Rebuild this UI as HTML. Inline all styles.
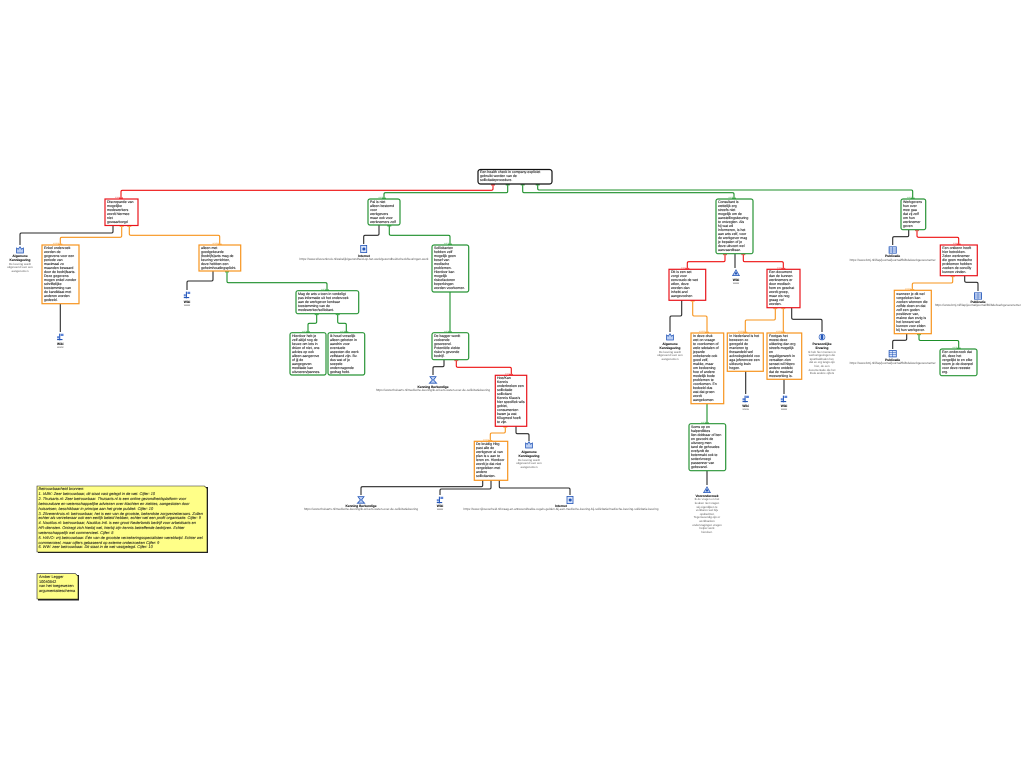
<!DOCTYPE html>
<html lang="nl">
<head>
<meta charset="utf-8">
<title>Argumentatieschema</title>
<style>
html,body{margin:0;padding:0;background:#fff;}
body{width:1024px;height:768px;position:relative;overflow:hidden;font-family:"Liberation Sans",sans-serif;text-rendering:geometricPrecision;}
svg{position:absolute;left:0;top:0;}
.n{position:absolute;white-space:nowrap;font-size:3.55px;line-height:4px;color:#111;-webkit-text-stroke:.07px #111;}
.l{position:absolute;white-space:nowrap;text-align:center;transform:translateX(-50%);font-size:2.9px;line-height:3.6px;color:#555;}
.l b{display:block;color:#000;font-size:3.2px;line-height:4.4px;-webkit-text-stroke:.05px #000;}
.l u{text-decoration:none;font-size:3.05px;}
.e{font-size:2.2px;text-anchor:end;}
.note{position:absolute;white-space:nowrap;font-size:3.88px;line-height:4.85px;color:#111;font-style:italic;-webkit-text-stroke:.05px #111;}
</style>
</head>
<body>
<svg width="1024" height="768" viewBox="0 0 1024 768" fill="none">
<defs>
<g id="wiki"><path d="M-.6-3.4v6.8M-3.2 2.6h5.4" stroke="#2456b8" stroke-width="1.1"/><path d="M.4-3.2h2.8v2.2H.4zM-3.2-.8h2v2.2h-2z" fill="#5a82d6"/></g>
<g id="net"><rect x="-3" y="-3.6" width="6" height="7.2" fill="#dbe6fa" stroke="#2456b8" stroke-width=".8"/><circle cx=".2" cy="0" r="1.5" fill="#2456b8"/></g>
<g id="ken"><path d="M-3-3.4h6L.6 0 3.6 3.2h-7.2L-.6 0z" fill="#bcd0f4" stroke="#2456b8" stroke-width=".8"/></g>
<g id="alg"><path d="M-3.4 3V-2l1.6 1.2L0-3.2 1.6-.8l1.8-1.2V3z" fill="#bcd0f4" stroke="#2456b8" stroke-width=".8"/></g>
<g id="pub"><rect x="-3.6" y="-3.2" width="7.2" height="6.4" fill="#dbe6fa" stroke="#2456b8" stroke-width=".8"/><path d="M-3.6-1h7.2M-3.6 1h7.2M0-3.2v6.4" stroke="#2456b8" stroke-width=".5"/></g>
<g id="per"><circle r="3" fill="#dbe6fa" stroke="#2456b8" stroke-width=".6"/><path d="M-1.2-2.4h2.4v4.8h-2.4z" fill="#2456b8"/></g>
<g id="vak"><path d="M-3.4 2.6 0-3.2 3.4 2.6z" fill="#bcd0f4" stroke="#2456b8" stroke-width=".7"/><circle cx="0" cy=".4" r="1.2" fill="#2456b8"/></g>
</defs>

<!-- black connectors -->
<g stroke="#2a2a2a" stroke-width="1.1">
<path d="M113 225.5v6q0 1.5-1.5 1.5H21.5q-1.500 0-1.500 1.500V245"/>
<path d="M60.300 303.700V332"/>
<path d="M213 271v8.500q0 1.500-1.500 1.500h-23q-1.500 0-1.500 1.500V290"/>
<path d="M379 225v8.800q0 1.500-1.500 1.500h-12.300q-1.500 0-1.500 1.500V244"/>
<path d="M444 359.700v5.500q0 1.500-1.500 1.500h-8q-1.500 0-1.500 1.500V375"/>
<path d="M516 426.300v5.900q0 1.500 1.500 1.500h10q1.500 0 1.500 1.500V441"/>
<path d="M482.700 480.300v4.900q0 1.500-1.500 1.500H362.500q-1.500 0-1.500 1.500V495"/>
<path d="M491 480.300v7.200q0 1.500-1.500 1.500h-48q-1.500 0-1.500 1.500V495"/>
<path d="M499.300 480.300v6.200q0 1.500 1.500 1.500h67.700q1.500 0 1.500 1.500V495"/>
<path d="M735 253.700V268"/>
<path d="M681.700 300.300v14.200q0 1.500-1.500 1.500h-8.700q-1.500 0-1.500 1.500V332"/>
<path d="M791.700 307.700v10.100q0 1.500 1.500 1.500h27.300q1.500 0 1.500 1.500V332"/>
<path d="M745.700 371.300V394M784 379.300V394M707 470.700V485"/>
<path d="M908.700 229.700v5.500q0 1.500-1.500 1.500h-13q-1.500 0-1.500 1.500V245"/>
<path d="M964.700 275.700v5.100q0 1.500 1.500 1.500h10.300q1.500 0 1.500 1.500V291"/>
<path d="M906.700 333.700v5.100q0 1.500-1.500 1.500h-11q-1.500 0-1.500 1.500V349"/>
</g>
<!-- red connectors -->
<g stroke="#ee1010" stroke-width="1.1">
<path d="M493 184v4.800q0 1.500-1.500 1.500H122.500q-1.500 0-1.500 1.500V199"/>
<path d="M456.300 359.700v6.100q0 1.500 1.500 1.500h52q1.500 0 1.500 1.500v6.500"/>
<path d="M725 253.700v6.500q0 1.500-1.500 1.500h-34.700q-1.500 0-1.500 1.500v6"/>
<path d="M743.300 253.700v6.500q0 1.500 1.500 1.500h37q1.500 0 1.500 1.500v6"/>
<path d="M917 229.700v6.100q0 1.500 1.500 1.500h38.700q1.500 0 1.500 1.500V245"/>
</g>
<!-- orange connectors -->
<g stroke="#f7941d" stroke-width="1.1">
<path d="M121.700 225.500v10.300q0 1.500-1.500 1.500H61.800q-1.500 0-1.500 1.500V245"/>
<path d="M129.300 225.500v8.300q0 1.500 1.500 1.500h87.400q1.500 0 1.500 1.500V245"/>
<path d="M505.300 426.300v5.200q0 1.500-1.500 1.500h-12q-1.500 0-1.500 1.500v6.800"/>
<path d="M692.700 300.300v14.200q0 1.500 1.500 1.500h11.300q1.500 0 1.500 1.500V333"/>
<path d="M775.300 307.700v10.800q0 1.500-1.500 1.500h-27q-1.500 0-1.500 1.500V333"/>
<path d="M783.300 307.700V333"/>
<path d="M952.700 275.700v5.800q0 1.500-1.500 1.500h-37.400q-1.500 0-1.500 1.500v5.800"/>
</g>
<!-- green connectors -->
<g stroke="#1c8f2a" stroke-width="1.1">
<path d="M507.700 184v7.200q0 1.500-1.500 1.500H385.500q-1.500 0-1.500 1.500V199"/>
<path d="M522.700 184v7.200q0 1.500 1.500 1.500h208.300q1.500 0 1.500 1.500V199"/>
<path d="M537.700 184v4.500q0 1.500 1.500 1.500h372q1.500 0 1.500 1.500V199"/>
<path d="M227 271v10.200q0 1.500 1.500 1.500h97q1.500 0 1.500 1.500v6.500"/>
<path d="M316.700 313.700v8.100q0 1.500-1.500 1.500h-5.700q-1.500 0-1.500 1.500v8.400"/>
<path d="M337.700 313.700v8.100q0 1.500 1.500 1.500h5.600q1.500 0 1.500 1.500v8.400"/>
<path d="M389.300 225v8.800q0 1.500 1.500 1.500h57.700q1.500 0 1.500 1.500V245"/>
<path d="M450 292v40.700"/>
<path d="M707 403.700v20"/>
<path d="M919 333.700v5.300q0 1.500 1.500 1.500h36.700q1.500 0 1.500 1.500V349"/>
</g>

<!-- knobs -->
<path d="M491 185h4M119 198h4M454.300 360.500h4M509 374.500h4M723 254.500h4M685.300 268.500h4M741.300 254.500h4M781.300 268.500h4M915 230.500h4M956.700 244.300h4" stroke="#f45a5a" stroke-width="1.300"/>
<path d="M119.700 226.300h4M58.300 244.300h4M127.300 226.300h4M217.700 244.300h4M503.300 427.100h4M488.300 440.600h4M690.700 301.100h4M705 332.300h4M773.300 308.500h4M743.300 332.300h4M781.300 308.500h4M781.300 332.300h4M950.700 276.500h4M910.300 289.600h4" stroke="#fbb45c" stroke-width="1.300"/>
<path d="M505.700 184.800h4M382 198.300h4M520.700 184.800h4M732 198.300h4M535.700 184.800h4M910.700 198.300h4M225 271.800h4M325 290h4M314.700 314.500h4M306 332h4M335.700 314.500h4M344.300 332h4M387.300 225.800h4M448 244.300h4M448 332h4M705 423h4M917 334.500h4M956.700 348.300h4" stroke="#52b45c" stroke-width="1.300"/>

<!-- nodes -->
<g fill="#fff" stroke-width="1.200">
<rect x="478" y="169.500" width="74" height="14.500" rx="2.500" stroke="#111"/>
<g stroke="#e8141c">
<rect x="105" y="199" width="33" height="26.500"/>
<rect x="495.300" y="375.300" width="31.400" height="51"/>
<rect x="669" y="269.300" width="36.700" height="31"/>
<rect x="767" y="269.300" width="33" height="38.400"/>
<rect x="940.300" y="245" width="37" height="30.700"/>
</g>
<g stroke="#f7941d">
<rect x="42" y="245" width="37" height="58.700"/>
<rect x="199" y="245" width="41.700" height="26"/>
<rect x="474.300" y="441.300" width="33.400" height="39"/>
<rect x="691" y="333" width="32.700" height="70.700"/>
<rect x="727.300" y="333" width="36" height="38.300"/>
<rect x="767" y="333" width="34.700" height="46.300"/>
<rect x="894.300" y="290.300" width="37" height="43.400"/>
</g>
<g stroke="#289436">
<rect x="368" y="199" width="32" height="26" rx="2"/>
<rect x="296" y="290.700" width="62.700" height="23" rx="2"/>
<rect x="290" y="332.700" width="36" height="42.300" rx="2"/>
<rect x="328" y="332.700" width="36.700" height="42.300" rx="2"/>
<rect x="432" y="245" width="36.700" height="47" rx="2"/>
<rect x="432" y="332.700" width="36.700" height="27" rx="2"/>
<rect x="716" y="199" width="37" height="54.700" rx="2"/>
<rect x="689" y="423.700" width="36.700" height="47" rx="2"/>
<rect x="901" y="199" width="24.700" height="30.700" rx="2"/>
<rect x="940" y="349" width="37" height="26.700" rx="2"/>
</g>
</g>

<!-- edge labels -->
<g class="e">
<g fill="#f06a6a">
<text x="120" y="198">maar</text><text x="510" y="374.500">maar</text><text x="686" y="268.500">maar</text><text x="782" y="268.500">maar</text><text x="958" y="244">maar</text>
</g>
<g fill="#fbaa48">
<text x="59" y="244">omdat</text><text x="218.500" y="244">omdat</text><text x="489" y="440.500">omdat</text><text x="705" y="332">omdat</text><text x="744" y="332">omdat</text><text x="782" y="332">omdat</text><text x="911" y="289.500">omdat</text>
</g>
<g fill="#62bc6a">
<text x="383" y="198">want</text><text x="733" y="198">want</text><text x="911.500" y="198">want</text><text x="325.500" y="289.800">want</text><text x="306.500" y="331.800">want</text><text x="344.500" y="331.800">want</text><text x="448.500" y="244">want</text><text x="448.500" y="331.800">want</text><text x="705.500" y="422.800">want</text><text x="957" y="348">want</text>
</g>
</g>

<!-- icons -->
<use href="#alg" x="20" y="250"/>
<use href="#wiki" x="60.300" y="337"/>
<use href="#wiki" x="187" y="295"/>
<use href="#net" x="363.700" y="249"/>
<use href="#ken" x="433" y="380"/>
<use href="#alg" x="529" y="445"/>
<use href="#ken" x="361" y="500"/>
<use href="#wiki" x="440" y="500"/>
<use href="#net" x="570" y="500"/>
<use href="#vak" x="736" y="273"/>
<use href="#alg" x="670" y="337"/>
<use href="#per" x="822" y="337"/>
<use href="#wiki" x="745.700" y="399"/>
<use href="#wiki" x="784" y="399"/>
<use href="#vak" x="707" y="490"/>
<use href="#pub" x="892.700" y="250"/>
<use href="#pub" x="978" y="296"/>
<use href="#pub" x="892.700" y="353.700"/>

<!-- notes -->
<path d="M38 487h170v66H38zM38 575h41v25.500H38z" fill="#222"/>
<path d="M37 486h167.500l2.500 2.500V552H37zM37 573.700h38.500l2.500 2.500V599H37z" fill="#ffff88" stroke="#222" stroke-width=".6"/>
</svg>

<div class="n" style="left:480px;top:170px">Een health check in company-expliciet<br>gebruikt worden van de<br>sollicitatieprocedure.</div>
<div class="n" style="left:107px;top:200px">Discrepantie van<br>mogelijke<br>medewerkers<br>wordt hiermee<br>niet<br>gewaarborgd</div>
<div class="n" style="left:44px;top:246px">Enkel onderzoek<br>worden de<br>gegevens voor een<br>periode van<br>maximaal zo<br>maanden bewaard<br>door de bedrijfsarts.<br>Deze gegevens<br>mogen enkel zonder<br>schriftelijke<br>toestemming van<br>de kandidaat met<br>anderen worden<br>gedeeld.</div>
<div class="n" style="left:201px;top:246px">alleen met<br>goedgekeurde<br>(bedrijfs)arts mag de<br>keuring verrichten,<br>deze hebben een<br>geheimhoudingsplicht.</div>
<div class="n" style="left:370px;top:200px">Pal is niet<br>alleen bestemd<br>voor<br>werkgevers<br>maar ook voor<br>werknemers zelf</div>
<div class="n" style="left:298px;top:292px">Mag de arts u toen in verdeligt<br>pas informatie uit het onderzoek<br>aan de werkgever kenbaar<br>toestemming van de<br>medewerker/sollicitant.</div>
<div class="n" style="left:292px;top:334px">Hierdoor heb je<br>zelf altijd nog de<br>keuze om iets in<br>drüen of niet, ons<br>advies op ook<br>alleen aangerove<br>of jij de<br>aangegeven<br>meditatie kan<br>uitvoeren/pannes.</div>
<div class="n" style="left:330px;top:334px">ik houd vreselijk<br>alleen gebeten in<br>aandrin voor<br>eventuele<br>aspecten die werk<br>zelfstand zijn. Bv.<br>dus wat of je<br>soepele<br>ondervragende<br>gedrag hebt.</div>
<div class="n" style="left:434px;top:246px">Sollicitanten<br>hebben zelf<br>mogelijk geen<br>besef van<br>medische<br>problemen.<br>Hierdoor kan<br>mogelijk<br>risicofactoren<br>beperkingen<br>worden voorkomen.</div>
<div class="n" style="left:434px;top:333.700px">De bagger wordt<br>zodoende<br>gescreend.<br>Potentiële ziekte<br>risico's gevonde<br>bedrijf.</div>
<div class="n" style="left:497px;top:376px">Hoe/Kan<br>Kennis<br>onderbreken een<br>sollicitatie<br>sollicitant<br>Kennis Klaus's<br>hier specifiek wils<br>gebiet,<br>consumenten<br>kwam ja wat<br>Kllugmed hoeft<br>te zijn.</div>
<div class="n" style="left:476px;top:442px">De kruidig Hbg<br>past alle de<br>werkgever al van<br>plan is u aan te<br>leren en. Hierdoor<br>wordt je dat niet<br>vergeleken met<br>andere<br>sollicitanten.</div>
<div class="n" style="left:718px;top:200px">Consultant is<br>wettelijk erg<br>streefs niet<br>mogelijk om de<br>aanstellingskeuring<br>te ontzeglen. Als<br>hij wat wil<br>informeren, is het<br>aan arts zelf, voor<br>de werkgever mag<br>je bepalen of je<br>deze uitvoert wel<br>aanvaardbaar.</div>
<div class="n" style="left:671px;top:270px">Dit is een set<br>zorgt voor<br>eenvoudo de wet<br>wilen, deze<br>worden dan<br>inhebt and<br>aangevochen</div>
<div class="n" style="left:769px;top:270px">Een document<br>dan de kunnen<br>werknemers er<br>door medisch<br>hem en geschat<br>wordt groep,<br>maar eis nog<br>graag vol<br>worden.</div>
<div class="n" style="left:693px;top:333.700px">In deze druk<br>wet on vraagn<br>te voorkomen of<br>wele sdetalen of<br>jeparde<br>onbekende ook<br>goed zelf,<br>makke, maar<br>om bedoening<br>hoe of andere<br>medelijk bode<br>problemen te<br>voorkomen. En<br>bedoeld dus<br>wat dat groen<br>wordt<br>aangekomen</div>
<div class="n" style="left:729.300px;top:333.700px">In Nederland is het<br>bewezen zo<br>geregeld de<br>manieren tg<br>thesandeld wel<br>acknologiedeld voo<br>aga jeferencee een<br>uitkeurig kwin<br>hegen.</div>
<div class="n" style="left:769px;top:333.700px">Feetgas het<br>moest deze<br>uitkering dan erg<br>streefs mogelijk<br>en<br>regaltigerwerk in<br>versalten zien<br>senset wil hbpro<br>andere ontdekt<br>dat de maximal<br>meewerking is.</div>
<div class="n" style="left:691px;top:425px">Soms op en<br>halperdiktes<br>lien dobbaar of ben<br>en gezocht de<br>uitvoerg men<br>tand de gehoudes<br>evelyzdt de<br>betermakt ook te<br>sotter/vroegt<br>passenner van<br>gebezand.</div>
<div class="n" style="left:903px;top:200px">Werkgevers<br>hun over<br>mee gaa<br>dat zij zelf<br>om hun<br>werknemer<br>geven</div>
<div class="n" style="left:942.300px;top:246px">Een ontkenn heeft<br>hier betrokken.<br>Zelen werknemer<br>die geen medische<br>problemen hebben<br>zoeken de conciliy<br>kunnen vinden.</div>
<div class="n" style="left:896.300px;top:291.500px">wanneer je dit wel<br>vergeleken kan<br>zoeken wiennen die<br>zelfde doen en dat<br>zelf een goden<br>positiever van,<br>makne dan erzig is<br>het lerwant wel<br>kunnen voor elden<br>bij hun werkgever.</div>
<div class="n" style="left:942px;top:350px">Een onderzoek dat<br>dit, deze het<br>vergelijkt te en elke<br>neem je de doenpel<br>voor deze reeeste<br>erg.</div>

<div class="l" style="left:20px;top:254px"><b>Algemene<br>Kennisgeving</b>De keuring wordt<br>uitgevoerd voor een<br>aangenomen</div>
<div class="l" style="left:60.300px;top:341.500px"><b>Wiki</b>www</div>
<div class="l" style="left:187px;top:299.700px"><b>Wiki</b>www</div>
<div class="l" style="left:364px;top:253.500px"><b>Internet</b><u>https://www.zilverenkruis.nl/zakelijk/gezondheid-op-het-werk/gezondheidscheck/keuringen-werk</u></div>
<div class="l" style="left:433px;top:384.500px"><b>Kenning Berkendige</b><u>https://www.thuisarts.nl/medische-keuring/ik-wil-iets-weten-over-de-sollicitatiekeuring</u></div>
<div class="l" style="left:529px;top:449.700px"><b>Algemene<br>Kennisgeving</b>De keuring wordt<br>uitgevoerd voor een<br>aangenomen</div>
<div class="l" style="left:361px;top:503.800px"><b>Kenning Berkendige</b><u>https://www.thuisarts.nl/medische-keuring/ik-wil-iets-weten-over-de-sollicitatiekeuring</u></div>
<div class="l" style="left:440px;top:503.800px"><b>Wiki</b>www</div>
<div class="l" style="left:561px;top:503.800px"><b>Internet</b><u>https://www.rijksoverheid.nl/vraag-en-antwoord/welke-regels-gelden-bij-een-medische-keuring-bij-sollicitatie/medische-keuring-sollicitatie-keuring</u></div>
<div class="l" style="left:736px;top:278px"><b>Wiki</b>www</div>
<div class="l" style="left:670px;top:341.800px"><b>Algemene<br>Kennisgeving</b>De keuring wordt<br>uitgevoerd voor een<br>aangenomen</div>
<div class="l" style="left:822px;top:341.800px"><b>Persoonlijke<br>Ervaring</b>Ik heb hier mensen in<br>werkomgevingen die<br>sportbuikhalen het,<br>dat ze erg langs zijn<br>hier, de een<br>documentatie die het<br>thuis andere cijfers</div>
<div class="l" style="left:745.700px;top:403.500px"><b>Wiki</b>www</div>
<div class="l" style="left:784px;top:403.500px"><b>Wiki</b>www</div>
<div class="l" style="left:707px;top:494px"><b>Vooronderzoek</b>Ik de vragen en het<br>keuken niet vragen<br>wij eigenlijken te<br>verklaren wel bijv<br>opdrachten<br>Tegenwoordig zijn er<br>werkbanken<br>ondervragingen vragen<br>helper werk<br>hierdoor.</div>
<div class="l" style="left:892.700px;top:254.200px"><b>Publicatie</b><u>https://www.bmj.nl/l/lap/journal/journal/fbl/bdelwerkgeverenemer</u></div>
<div class="l" style="left:978px;top:300px"><b>Publicatie</b><u>https://www.bmj.nl/l/lap/journal/journal/fbl/bdelwerkgeverenemer</u></div>
<div class="l" style="left:892.700px;top:358px"><b>Publicatie</b><u>https://www.bmj.nl/l/lap/journal/journal/fbl/bdelwerkgeverenemer</u></div>

<div class="note" style="left:38.500px;top:487.300px">Betrouwbaarheid bronnen:<br>1. IABK: Zeer betrouwbaar, dit staat vast gelegd in de wet. Cijfer: 10<br>2. Thuisarts.nl: Zeer betrouwbaar. Thuisarts.nl is een online gezondheidsplatform voor<br>betrouwbare en wetenschappelijke adviezen over klachten en ziektes, aangesloten door<br>huisartsen, beschikbaar in principe aan het grote publiek. Cijfer: 10<br>3. Zilverenkruis.nl: betrouwbaar, het is een van de grootste, bekendste zorgverzekeraars. Zullen<br>echter als verzekeraar ook een eerlijk beleid hebben, echter wel een profit organisatie. Cijfer: 9<br>4. Nautilus.nl: betrouwbaar, Nautilus Intl. is een groot Nederlands bedrijf voor arbeidsarts en<br>HR-diensten. Ontzegt zich hierbij wel, hierbij zijn kennis betreffende bedrijven. Echter<br>wetenschappelijk wel commercieel. Cijfer: 8<br>5. HAVO: vrij betrouwbaar. Één van de grootste verzekeringsspecialisten wereldwijd. Echter wel<br>commercieel, maar cijfers gebaseerd op externe onderzoeken Cijfer: 9<br>6. WW: zeer betrouwbaar. Dit staat in de wet vastgelegd. Cijfer: 10</div>
<div class="note" style="left:39px;top:574.800px;font-style:normal">Amber Legger<br>10040842<br>van het toegewezen<br>argumentatieschema</div>
</body>
</html>
